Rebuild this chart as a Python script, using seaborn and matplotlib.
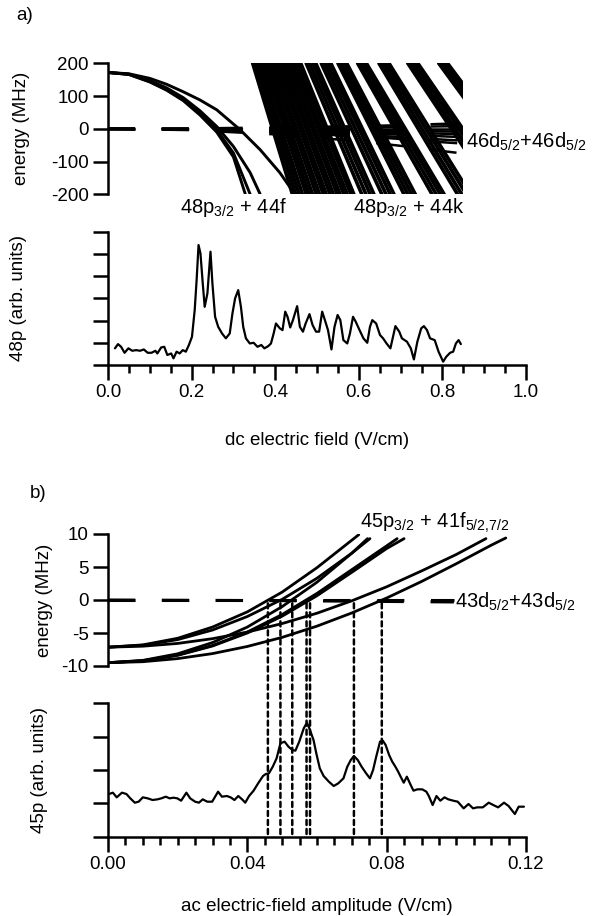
import numpy as np
import pandas as pd
import matplotlib
matplotlib.use("Agg")
import matplotlib.pyplot as plt
from matplotlib.patches import ConnectionPatch
from matplotlib.ticker import MultipleLocator, FormatStrFormatter
import seaborn as sns

sns.set_style("ticks")
plt.rcParams["font.family"] = ["Liberation Sans", "DejaVu Sans"]
plt.rcParams["mathtext.fontset"] = "custom"
plt.rcParams["mathtext.rm"] = "Liberation Sans"
plt.rcParams["axes.unicode_minus"] = False
plt.rcParams["lines.scale_dashes"] = False
for k in ["text.color", "axes.labelcolor", "xtick.color", "ytick.color", "axes.edgecolor"]:
    plt.rcParams[k] = "black"

# ---------------- panel a) : dc field -----------------
# 48p3/2 + 44f pair states (field in V/cm, energy in MHz)
f_curves = {
    "A": ([0, 0.05, 0.10, 0.14, 0.18, 0.22, 0.26, 0.30, 0.3285, 0.35],
          [172, 166, 143, 118, 86, 42, -10, -86, -200, -290]),
    "B": ([0, 0.05, 0.10, 0.14, 0.18, 0.22, 0.26, 0.30, 0.340, 0.36],
          [172, 166, 144, 120, 89, 47, -3, -74, -200, -270]),
    "C": ([0, 0.05, 0.10, 0.14, 0.18, 0.22, 0.26, 0.30, 0.34, 0.364, 0.38],
          [172, 167, 147, 125, 95, 55, 7, -54, -134, -200, -250]),
    "D": ([0, 0.05, 0.10, 0.14, 0.18, 0.22, 0.26, 0.316, 0.364, 0.411, 0.447, 0.47],
          [172, 168, 154, 136, 113, 88, 58, -3, -64, -134, -200, -240]),
}

# 48p3/2 + 44k manifold: field where each state crosses +200 and -200 MHz
k_top = [0.346, 0.352, 0.358, 0.364, 0.371, 0.377, 0.383, 0.390, 0.396, 0.403,
         0.409, 0.416, 0.422, 0.429, 0.435, 0.442, 0.448, 0.455, 0.461,
         0.474, 0.482, 0.490, 0.497,
         0.510, 0.518, 0.526, 0.533,
         0.550, 0.557, 0.564, 0.571,
         0.597, 0.604, 0.611, 0.618,
         0.648, 0.656, 0.664, 0.672,
         0.717, 0.725, 0.733, 0.741,
         0.791, 0.798, 0.805, 0.812]
k_bot = [0.441, 0.449, 0.457, 0.465, 0.474, 0.481, 0.489, 0.498, 0.506, 0.515,
         0.522, 0.531, 0.539, 0.548, 0.555, 0.564, 0.572, 0.581, 0.588,
         0.607, 0.617, 0.627, 0.636,
         0.655, 0.665, 0.675, 0.684,
         0.708, 0.717, 0.726, 0.735,
         0.775, 0.785, 0.795, 0.804,
         0.836, 0.846, 0.857, 0.867,
         0.925, 0.935, 0.946, 0.956,
         1.020, 1.029, 1.038, 1.047]

# 46d5/2 + 46d5/2 states (dashed)
dd_field = [0, 0.2, 0.4, 0.6, 0.7, 0.8, 0.86]
dd_levels = [
    [0, 1, 4, 8, 11, 15, 17],
    [0, 0.5, 2, 4, 5.5, 7.5, 8.5],
    [0, 0, 0, 0, 0, 0, 0],
    [0, -0.5, -2, -4.5, -6, -8, -9],
    [0, -1, -4, -8.5, -11.5, -15, -17],
    [0, -1.5, -6, -13, -17.5, -23, -26],
    [0, -2, -8.5, -18.5, -25, -33, -37],
    [0, -2.5, -10, -23, -31, -41, -46],
    [0, -4, -17, -38, -52, -68, -77],
]

# 48p signal vs dc field
dc_field = [0.0166, 0.024, 0.0313, 0.0396, 0.0488, 0.0581, 0.0673, 0.0765, 0.0857, 0.0949,
            0.1041, 0.1134, 0.118, 0.1272, 0.1346, 0.1419, 0.1512, 0.1567, 0.1641, 0.1714,
            0.1788, 0.1862, 0.1935, 0.2009, 0.2074, 0.212, 0.2166, 0.2212, 0.2267, 0.2313,
            0.2378, 0.2452, 0.2498, 0.2562, 0.2636, 0.2728, 0.282, 0.2912, 0.2977, 0.3041,
            0.3115, 0.318, 0.3235, 0.33, 0.3392, 0.3484, 0.3576, 0.3668, 0.3742, 0.3834,
            0.3899, 0.3963, 0.4018, 0.4111, 0.4175, 0.424, 0.4295, 0.4359, 0.4424, 0.4525,
            0.459, 0.4664, 0.4728, 0.482, 0.4894, 0.4977, 0.5051, 0.5124, 0.5189, 0.5263,
            0.5346, 0.5419, 0.5493, 0.5558, 0.5631, 0.5724, 0.5788, 0.5862, 0.5926, 0.6018,
            0.6111, 0.6203, 0.6267, 0.6323, 0.6415, 0.6507, 0.6581, 0.6664, 0.6756, 0.6876,
            0.6968, 0.7032, 0.7152, 0.7244, 0.7318, 0.7401, 0.7493, 0.7558, 0.7631, 0.7705,
            0.7816, 0.7908, 0.8018, 0.8092, 0.8184, 0.8258, 0.8323, 0.8387, 0.8442]
sig_48p = [0.75, 0.94, 0.82, 0.55, 0.75, 0.64, 0.67, 0.64, 0.70, 0.55,
           0.55, 0.64, 0.52, 0.79, 0.82, 0.45, 0.52, 0.30, 0.60, 0.52,
           0.67, 0.60, 0.90, 1.27, 2.47, 3.82, 5.40, 5.02, 3.67, 2.62,
           3.22, 5.10, 3.67, 2.17, 1.72, 1.42, 1.20, 1.42, 2.32, 3.0,
           3.37, 2.62, 1.72, 1.20, 0.97, 1.0, 0.82, 0.90, 0.75, 0.85,
           0.97, 1.42, 1.87, 1.65, 1.57, 2.40, 2.17, 1.69, 2.02, 2.65,
           1.72, 1.50, 1.87, 2.29, 1.80, 1.50, 1.50, 2.40, 2.02, 1.57,
           0.70, 1.72, 2.25, 2.02, 1.12, 0.97, 1.42, 2.17, 1.95, 1.57,
           1.20, 1.0, 1.72, 2.02, 1.87, 1.35, 1.20, 0.97, 0.75, 1.75,
           1.50, 1.20, 1.05, 0.75, 0.25, 1.05, 1.65, 1.75, 1.57, 1.20,
           1.12, 0.60, 0.15, 0.37, 0.55, 0.60, 0.97, 1.12, 0.94]

# ---------------- panel b) : ac field -----------------
f_ac_curves = {
    1: ([0, 0.01, 0.02, 0.03, 0.04, 0.05, 0.06, 0.072],
        [-7.15, -6.8, -5.8, -4.1, -1.8, 1.2, 4.9, 9.9]),
    2: ([0, 0.01, 0.02, 0.03, 0.04, 0.05, 0.06, 0.07, 0.0752],
        [-7.15, -6.85, -6.0, -4.55, -2.5, 0.1, 3.3, 7.1, 9.3]),
    3: ([0, 0.01, 0.02, 0.03, 0.04, 0.05, 0.06, 0.07, 0.0745],
        [-9.5, -9.15, -8.15, -6.45, -4.1, -1.0, 2.7, 7.1, 9.3]),
    4: ([0, 0.01, 0.02, 0.03, 0.04, 0.05, 0.06, 0.07, 0.08, 0.083],
        [-9.5, -9.2, -8.35, -6.9, -4.85, -2.2, 1.0, 4.6, 8.2, 9.3]),
    5: ([0, 0.01, 0.02, 0.03, 0.04, 0.05, 0.06, 0.07, 0.08, 0.085],
        [-9.5, -9.22, -8.38, -6.97, -5.0, -2.45, 0.65, 4.2, 7.8, 9.3]),
    6: ([0, 0.01, 0.02, 0.03, 0.04, 0.05, 0.06, 0.07, 0.08, 0.09, 0.10, 0.1085],
        [-7.15, -7.0, -6.58, -5.86, -4.86, -3.57, -2.0, -0.12, 2.0, 4.4, 6.9, 9.3]),
    7: ([0, 0.01, 0.02, 0.03, 0.04, 0.05, 0.06, 0.07, 0.08, 0.09, 0.10, 0.11, 0.1142],
        [-9.5, -9.35, -8.88, -8.12, -7.04, -5.66, -3.96, -1.96, 0.3, 2.8, 5.5, 8.3, 9.4]),
}
ac_dd_field = [[0, 0.0993], [0, 0.05, 0.0993]]
ac_dd_levels = [[0, 0], [0, -0.1, -0.3]]

# resonance positions (zero crossings)
resonances = [0.0459, 0.0495, 0.0529, 0.0570, 0.0580, 0.0706, 0.0786]

ac_field = [0.0003, 0.0014, 0.0025, 0.004, 0.0053, 0.0064, 0.0077, 0.0088, 0.01, 0.0114,
            0.0128, 0.0142, 0.0153, 0.0166, 0.0177, 0.0188, 0.0199, 0.021, 0.0225, 0.0236,
            0.025, 0.0261, 0.0272, 0.0285, 0.0299, 0.0316, 0.0327, 0.0341, 0.0352, 0.0363,
            0.0374, 0.0385, 0.0394, 0.0405, 0.0418, 0.0431, 0.0445, 0.0453, 0.0462, 0.0473,
            0.0484, 0.0495, 0.0507, 0.0518, 0.0529, 0.0538, 0.0549, 0.0562, 0.0571, 0.0578,
            0.0590, 0.0598, 0.0608, 0.0619, 0.0634, 0.0648, 0.0661, 0.0676, 0.0687, 0.0697,
            0.0706, 0.0717, 0.0728, 0.0741, 0.0752, 0.0761, 0.0770, 0.0781, 0.0789, 0.0797,
            0.0807, 0.0816, 0.0825, 0.0833, 0.0841, 0.0849, 0.0858, 0.0869, 0.0877, 0.0888,
            0.0902, 0.0914, 0.0921, 0.0932, 0.0943, 0.0954, 0.0966, 0.0977, 0.0991, 0.1004,
            0.1021, 0.1035, 0.1048, 0.106, 0.1076, 0.1093, 0.1106, 0.112, 0.1137, 0.115,
            0.1168, 0.1179, 0.1194]
sig_45p = [1.28, 1.32, 1.18, 1.32, 1.28, 1.15, 1.02, 1.05, 1.18, 1.15,
           1.10, 1.12, 1.15, 1.20, 1.15, 1.17, 1.15, 1.08, 1.32, 1.15,
           1.05, 1.02, 1.12, 1.05, 1.05, 1.35, 1.20, 1.22, 1.18, 1.10,
           1.22, 1.12, 1.02, 1.22, 1.38, 1.60, 1.82, 1.88, 1.90, 2.10,
           2.35, 2.80, 2.85, 2.70, 2.60, 2.58, 2.85, 3.25, 3.42, 3.25,
           2.90, 2.50, 2.05, 1.82, 1.65, 1.52, 1.60, 1.75, 2.10, 2.30,
           2.42, 2.30, 2.10, 1.90, 1.75, 2.00, 2.40, 2.85, 2.88, 2.75,
           2.45, 2.25, 2.10, 1.95, 1.78, 1.62, 1.80, 1.55, 1.38, 1.42,
           1.42, 1.35, 1.22, 0.95, 1.22, 1.08, 1.18, 1.12, 1.08, 1.05,
           0.85, 0.98, 0.85, 0.88, 0.88, 1.02, 0.95, 0.88, 1.02, 0.92,
           0.68, 0.90, 0.90]


# ---------------- layout -----------------
W, H = 603, 916


def box(left, top, right, bottom):
    return [left / W, 1 - bottom / H, (right - left) / W, (bottom - top) / H]


fig = plt.figure(figsize=(W / 100, H / 100), dpi=100)
ax1 = fig.add_axes(box(108, 63.3, 463, 194.3))
ax2 = fig.add_axes(box(108, 231.7, 526, 365))
ax3 = fig.add_axes(box(108, 534, 526, 666))
ax4 = fig.add_axes(box(108, 703.3, 526, 836.7))

LW = 1.8
FS = 13.5


def style_axes(ax, bottom=True):
    for s in ["top", "right"]:
        ax.spines[s].set_visible(False)
    ax.spines["left"].set_linewidth(LW)
    ax.spines["bottom"].set_linewidth(LW)
    if not bottom:
        ax.spines["bottom"].set_visible(False)
        ax.tick_params(axis="x", which="both", bottom=False, labelbottom=False)
    ax.tick_params(which="major", direction="out", length=10.8, width=LW, labelsize=FS, pad=3)
    ax.tick_params(which="minor", direction="out", length=5.8, width=LW)


# --- a) energies
rows = []
for name, (xs, ys) in f_curves.items():
    rows += [(name, x, y) for x, y in zip(xs, ys)]
df_f = pd.DataFrame(rows, columns=["state", "field", "energy"])
rows = []
for i, (t, b) in enumerate(zip(k_top, k_bot)):
    rows += [("k%d" % i, t, 200), ("k%d" % i, b, -200)]
df_k = pd.DataFrame(rows, columns=["state", "field", "energy"])
sns.lineplot(data=df_f, x="field", y="energy", units="state", estimator=None,
             color="black", lw=2.1, ax=ax1, legend=False)
sns.lineplot(data=df_k, x="field", y="energy", units="state", estimator=None,
             color="black", lw=2.6, ax=ax1, legend=False)
for lev in dd_levels:
    ax1.plot(dd_field, lev, color="black", lw=LW, ls=(0, (19.5, 19.2)))
ax1.set_xlim(0, 0.849)
ax1.set_ylim(-200, 200)
ax1.set_yticks([-200, -100, 0, 100, 200])
style_axes(ax1, bottom=False)
ax1.set_xlabel("")
ax1.set_ylabel("energy (MHz)", fontsize=FS, va="center")
ax1.yaxis.set_label_coords(-0.245, 0.5)

# --- a) signal
sns.lineplot(x=dc_field, y=sig_48p, color="black", lw=1.6, ax=ax2)
ax2.set_xlim(0, 1.0)
ax2.set_ylim(0, 6)
ax2.set_yticks(range(7))
ax2.xaxis.set_major_locator(MultipleLocator(0.2))
ax2.xaxis.set_minor_locator(MultipleLocator(0.05))
ax2.xaxis.set_major_formatter(FormatStrFormatter("%.1f"))
style_axes(ax2)
ax2.tick_params(axis="y", labelleft=False)
ax2.set_ylabel("48p (arb. units)", fontsize=FS, va="center")
ax2.yaxis.set_label_coords(-0.213, 0.5)
ax2.set_xlabel("dc electric field (V/cm)", fontsize=FS, va="center")
ax2.xaxis.set_label_coords(0.5, -0.563)

# --- b) energies
rows = []
for name, (xs, ys) in f_ac_curves.items():
    rows += [(name, x, y) for x, y in zip(xs, ys)]
df_b = pd.DataFrame(rows, columns=["state", "field", "energy"])
sns.lineplot(data=df_b, x="field", y="energy", units="state", estimator=None,
             color="black", lw=2.0, ax=ax3, legend=False)
for xs, ys in zip(ac_dd_field, ac_dd_levels):
    ax3.plot(xs, ys, color="black", lw=2.2, ls=(0, (19.5, 19.2)))
ax3.set_xlim(0, 0.12)
ax3.set_ylim(-10, 10)
ax3.set_yticks([-10, -5, 0, 5, 10])
style_axes(ax3, bottom=False)
ax3.set_xlabel("")
ax3.set_ylabel("energy (MHz)", fontsize=FS, va="center")
ax3.yaxis.set_label_coords(-0.151, 0.5)

# --- b) signal
sns.lineplot(x=ac_field, y=sig_45p, color="black", lw=1.6, ax=ax4)
ax4.set_xlim(0, 0.12)
ax4.set_ylim(0, 4)
ax4.set_yticks(range(5))
ax4.xaxis.set_major_locator(MultipleLocator(0.04))
ax4.xaxis.set_minor_locator(MultipleLocator(0.005))
ax4.xaxis.set_major_formatter(FormatStrFormatter("%.2f"))
style_axes(ax4)
ax4.tick_params(axis="y", labelleft=False)
ax4.set_ylabel("45p (arb. units)", fontsize=FS, va="center")
ax4.yaxis.set_label_coords(-0.163, 0.5)
ax4.set_xlabel("ac electric-field amplitude (V/cm)", fontsize=FS, va="center")
ax4.xaxis.set_label_coords(0.5, -0.525)

# dotted markers from the crossings down to the signal axis
for r in resonances:
    cp = ConnectionPatch(xyA=(r, -0.5), coordsA=ax3.transData,
                         xyB=(r, 0), coordsB=ax4.transData,
                         color="black", lw=1.8, ls=(0, (3.6, 2.9)))
    fig.add_artist(cp)


# labels
def ftxt(x, y, s, **kw):
    fig.text(x / W, 1 - y / H, s, **kw)


ftxt(25, 15, "a)", fontsize=FS, ha="center", va="center")
ftxt(38, 493, "b)", fontsize=FS, ha="center", va="center")
ftxt(180, 213, r"48p$_\mathregular{3/2}$ + 44f", fontsize=14.5, va="baseline")
ftxt(353, 213, r"48p$_\mathregular{3/2}$ + 44k", fontsize=14.5, va="baseline")
ftxt(466, 148, r"46d$_\mathregular{5/2}$+46d$_\mathregular{5/2}$", fontsize=14.5, va="baseline")
ftxt(360, 528, r"45p$_\mathregular{3/2}$ + 41f$_\mathregular{5/2{,}7/2}$", fontsize=14.5, va="baseline")
ftxt(455, 608, r"43d$_\mathregular{5/2}$+43d$_\mathregular{5/2}$", fontsize=14.5, va="baseline")

fig.savefig("out.png", dpi=100)
